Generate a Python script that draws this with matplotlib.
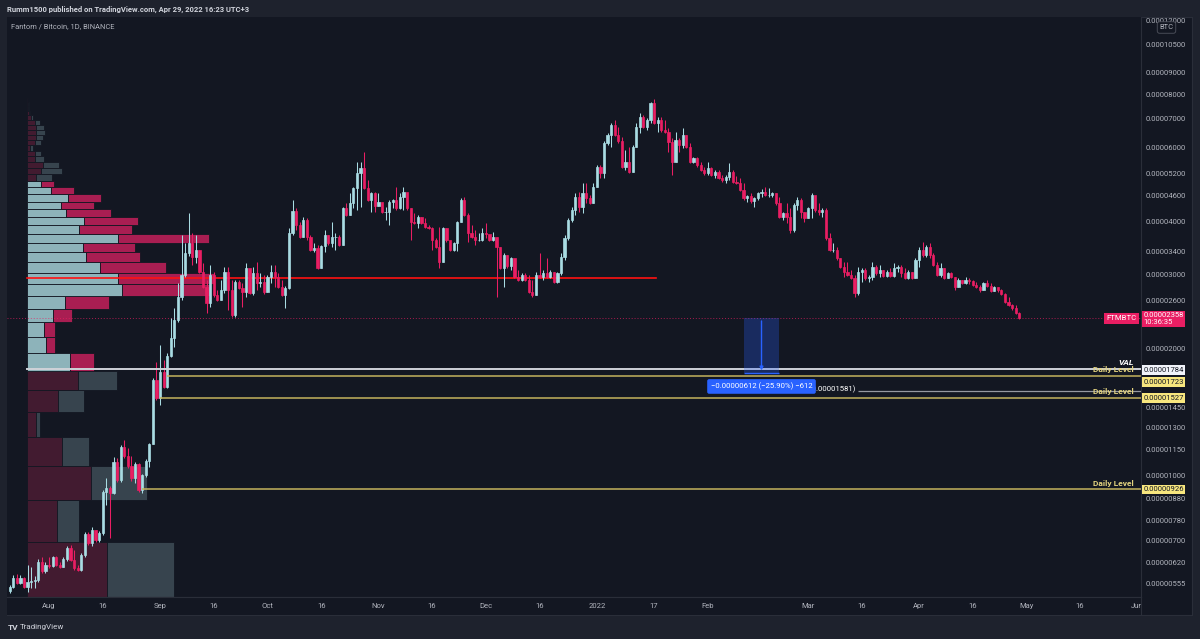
import numpy as np
import pandas as pd
import matplotlib
matplotlib.use("Agg")
import matplotlib.pyplot as plt
import matplotlib.dates as mdates
from matplotlib.patches import Rectangle
from matplotlib.transforms import blended_transform_factory
from matplotlib.ticker import FuncFormatter, NullLocator

plt.rcParams['font.family'] = ['Roboto', 'DejaVu Sans']

# FTM/BTC daily candles (prices in satoshi), first candle 2021-07-21
first_open = 533
closes = [
    545, 572, 557, 572, 545, 560, 563, 566, 624, 595,
    614, 611, 641, 614, 607, 634, 674, 631, 604, 598,
    649, 728, 693, 744, 704, 732, 915, 935, 910, 1077,
    976, 1169, 1113, 1054, 986, 1066, 925, 1003, 1083, 1188,
    1685, 1527, 1760, 1621, 1921, 2118, 2337, 2649, 2987, 3368,
    3557, 3296, 3423, 3036, 2797, 2563, 2987, 2678, 2606, 2752,
    3036, 2752, 2401, 2875, 2782, 2722, 3102, 2707, 3020, 2859,
    2875, 2722, 2955, 3036, 2955, 2797, 2678, 2782, 3756, 4234,
    3923, 3676, 4031, 3676, 3423, 3459, 3102, 3499, 3715, 3557,
    3676, 3676, 3518, 4303, 4143, 4423, 4799, 5210, 5352, 4799,
    4496, 4670, 4351, 4448, 4211, 4211, 4448, 4496, 4303, 4570,
    4696, 4303, 3987, 3965, 4098, 3965, 3880, 3859, 3615, 3480,
    3206, 3859, 3615, 3423, 3557, 3987, 4496, 4143, 3756, 3676,
    3615, 3615, 3756, 3736, 3615, 3676, 3480, 3102, 3331, 3137,
    3277, 2955, 2906, 2987, 2906, 2722, 2678, 2987, 2955, 3020,
    2955, 3036, 2875, 3020, 3296, 3657, 4031, 4257, 4570, 4326,
    4670, 4545, 4423, 4825, 5383, 5210, 6135, 6409, 6768, 6409,
    6202, 5383, 5531, 5238, 6003, 6695, 7069, 6695, 6955, 7630,
    6842, 6955, 6586, 6515, 6168, 5531, 6236, 6068, 6409, 6003,
    5531, 5653, 5441, 5295, 5210, 5352, 5153, 5238, 5068, 5014,
    5097, 5238, 4960, 4932, 4748, 4545, 4595, 4472, 4545, 4670,
    4696, 4620, 4620, 4670, 4423, 4098, 4188, 4098, 3817, 4375,
    4496, 4211, 4076, 4303, 4620, 4257, 4211, 4257, 3657, 3423,
    3423, 3277, 3120, 3036, 2987, 2939, 2707, 3036, 3069, 2939,
    2955, 3120, 3020, 3069, 2971, 3036, 2971, 3102, 3120, 3020,
    2939, 3036, 2939, 3241, 3423, 3331, 3480, 3331, 3154, 2987,
    3102, 2939, 3020, 2955, 2797, 2906, 2859, 2906, 2890, 2828,
    2797, 2752, 2859, 2813, 2737, 2797, 2752, 2693, 2578, 2536,
    2495, 2427, 2358,
]
highs = [
    551, 582, 585, 582, 575, 614, 607, 576, 634, 641,
    624, 641, 645, 645, 624, 641, 681, 685, 667, 614,
    656, 736, 736, 756, 744, 740, 925, 986, 945, 1107,
    1101, 1182, 1214, 1163, 1113, 1077, 1070, 1008, 1095, 1195,
    1703, 1859, 2039, 1879, 1951, 2362, 2495, 2859, 3715, 3557,
    4188, 3756, 3715, 3423, 3188, 2906, 3154, 3036, 2752, 2906,
    3120, 3120, 2906, 2906, 2906, 2859, 3188, 3020, 3120, 3205,
    3020, 2987, 2987, 3154, 3154, 3020, 2906, 2812, 3859, 4496,
    4303, 3987, 4098, 4076, 3715, 3557, 3518, 3518, 3817, 3715,
    3987, 3756, 3715, 4326, 4423, 4670, 4825, 5531, 5531, 5842,
    5014, 4696, 4696, 4670, 4423, 4326, 4496, 4521, 4825, 4670,
    4825, 4670, 4303, 4188, 4143, 4098, 4076, 3923, 3880, 3657,
    3880, 3880, 3859, 3596, 3576, 4009, 4545, 4570, 4188, 3923,
    3817, 3756, 3859, 3965, 3715, 3776, 3676, 3480, 3368, 3331,
    3296, 3241, 3069, 3020, 3020, 2987, 2906, 3036, 3368, 3069,
    3277, 3069, 3036, 3036, 3368, 3715, 4076, 4326, 4670, 4696,
    4932, 4932, 4620, 4932, 5441, 5441, 6202, 6480, 6842, 6955,
    6695, 6337, 5905, 6003, 6068, 6842, 7224, 7147, 7031, 7672,
    7799, 7069, 7069, 6955, 6659, 6303, 6515, 6303, 6659, 6409,
    6135, 5684, 5684, 5531, 5383, 5531, 5383, 5295, 5295, 5153,
    5153, 5500, 5295, 5125, 5068, 4932, 4620, 4670, 4570, 4696,
    4774, 4825, 4799, 4696, 4670, 4570, 4211, 4423, 4303, 4423,
    4570, 4545, 4211, 4326, 4670, 4570, 4423, 4303, 4303, 3756,
    3557, 3480, 3277, 3206, 3206, 3069, 2987, 3120, 3102, 3102,
    2987, 3206, 3154, 3154, 3069, 3069, 3102, 3188, 3154, 3154,
    3102, 3069, 3036, 3277, 3480, 3576, 3518, 3557, 3368, 3206,
    3188, 3102, 3036, 3036, 2955, 2939, 2906, 2955, 2939, 2906,
    2875, 2828, 2875, 2906, 2859, 2813, 2797, 2767, 2707, 2649,
    2550, 2536, 2441,
]
lows = [
    527, 542, 554, 554, 542, 530, 542, 542, 560, 588,
    588, 604, 607, 611, 604, 607, 628, 628, 598, 595,
    595, 641, 685, 681, 696, 696, 724, 852, 712, 905,
    966, 966, 1101, 1043, 971, 961, 915, 910, 992, 1048,
    1188, 1510, 1470, 1613, 1610, 1910, 2017, 2312, 2606, 2955,
    3313, 3154, 3188, 3020, 2782, 2427, 2509, 2649, 2592, 2606,
    2707, 2468, 2375, 2375, 2767, 2509, 2649, 2693, 2678, 2752,
    2797, 2693, 2722, 2859, 2797, 2782, 2664, 2495, 2770, 3715,
    3817, 3657, 3676, 3615, 3405, 3386, 3086, 3102, 3386, 3518,
    3480, 3423, 3499, 3518, 4121, 4143, 4303, 4257, 4326, 4774,
    4472, 4211, 4211, 4351, 4188, 4031, 3923, 4303, 4257, 4290,
    4257, 4257, 3615, 3944, 3859, 3944, 3859, 3838, 3423, 3459,
    3102, 3206, 3576, 3405, 3405, 3405, 3987, 4121, 3576, 3657,
    3518, 3596, 3596, 3657, 3596, 3596, 2649, 3086, 2797, 3102,
    3069, 2939, 2890, 2890, 2890, 2707, 2649, 2678, 2939, 2906,
    2939, 2939, 2859, 2859, 2987, 3241, 3615, 3987, 4143, 4211,
    4188, 4423, 4399, 4423, 4825, 5068, 5068, 6068, 6003, 6374,
    6135, 5352, 5295, 5210, 5238, 6003, 6480, 6659, 6586, 6842,
    6805, 6515, 6515, 6480, 5841, 5153, 5531, 5841, 5970, 5970,
    5500, 5500, 5383, 5266, 5153, 5153, 5125, 5068, 5041, 4960,
    4932, 5014, 4932, 4906, 4722, 4496, 4448, 4423, 4326, 4496,
    4570, 4595, 4570, 4570, 4375, 4076, 4031, 3965, 3756, 3776,
    4257, 4076, 3987, 4076, 4076, 4211, 4143, 4098, 3615, 3405,
    3386, 3241, 3102, 2955, 2971, 2922, 2649, 2678, 2875, 2906,
    2875, 2906, 2987, 2955, 2955, 2955, 2955, 2955, 3036, 2955,
    2922, 2922, 2922, 2939, 3120, 3296, 3296, 3277, 3137, 2971,
    2955, 2922, 2939, 2939, 2752, 2797, 2843, 2843, 2843, 2813,
    2782, 2722, 2752, 2797, 2722, 2737, 2722, 2678, 2563, 2522,
    2468, 2414, 2350,
]
dates = pd.date_range('2021-07-21', periods=len(closes), freq='D')

# visible range volume profile, rows of equal price size from the bottom
vp_low = 516
vp_row = 179
vp_first = [80, 30, 64, 35, 9, 31, 51, 43, 19, 17,
            26, 38, 95, 91, 73, 59, 56, 91, 52, 57,
            39, 34, 41, 24, 14, 9, 14, 16, 8, 8,
            3, 8, 9, 9, 9, 8, 4, 2, 1, 1, 1]
vp_second = [67, 22, 56, 27, 4, 26, 39, 24, 9, 11,
             19, 44, 87, 96, 66, 54, 52, 90, 53, 54,
             45, 33, 33, 23, 13, 16, 21, 16, 9, 6,
             3, 6, 7, 9, 8, 5, 2, 1, 1, 1, 0]
va_low = 1784
va_high = 4990
poc_end = '2022-01-17 12:00'

daily_levels = [1723, 1527, 926]
daily_starts = ['2021-09-03', '2021-09-01', '2021-08-27']
ray_level = 1581
ray_start = '2022-03-15'
last_price = 2358
measure_low = 1746
measure_start = '2022-02-11'
measure_end = '2022-02-21'
measure_text = '\u22120.00000612 (\u221225.90%) \u2212612'

price_ticks = [12000, 10500, 9000, 8000, 7000, 6000, 5200, 4600, 4000, 3400,
               3000, 2600, 2000, 1450, 1300, 1150, 1000, 880, 780, 700, 620, 555]
date_ticks = ['2021-08-01', '2021-08-16', '2021-09-01', '2021-09-16', '2021-10-01',
              '2021-10-16', '2021-11-01', '2021-11-16', '2021-12-01', '2021-12-16',
              '2022-01-01', '2022-01-17', '2022-02-01', '2022-03-01', '2022-03-16',
              '2022-04-01', '2022-04-16', '2022-05-01', '2022-05-16', '2022-06-01']
date_labels = ['Aug', '16', 'Sep', '16', 'Oct', '16', 'Nov', '16', 'Dec', '16',
               '2022', '17', 'Feb', 'Mar', '16', 'Apr', '16', 'May', '16', 'Jun']

BG = '#131722'
OUTER = '#1e222d'
BORDER = '#2a2e39'
TXT = '#b2b5be'
UP = '#a9dce3'
DN = '#e91e63'
YEL_LINE = '#c4b35e'
YEL_BOX = '#f7e67e'

W, H = 1200, 639
fig = plt.figure(figsize=(12, 6.39), dpi=100, facecolor=OUTER)

def fx(px):
    return px / W

def fy(py):
    return 1 - py / H

# chart panel
panel = fig.add_axes([fx(7), fy(615), (1192 - 7) / W, (615 - 17) / H])
panel.set_facecolor(BG)
panel.set_xticks([])
panel.set_yticks([])
for s in panel.spines.values():
    s.set_color(BORDER)

ax = fig.add_axes([fx(7), fy(597), (1141 - 7) / W, (597 - 17) / H])
ax.set_facecolor(BG)
ax.set_yscale('log')
xl = (mdates.date2num(pd.Timestamp('2021-07-20 06:00')), mdates.date2num(pd.Timestamp('2022-06-02')))

c = np.array(closes) / 1e8
o = np.r_[first_open, closes[:-1]] / 1e8
h = np.array(highs) / 1e8
l = np.array(lows) / 1e8
x = mdates.date2num(dates)
cols = np.where(c >= o, UP, DN)

# volume profile (screen anchored on the left)
tr = blended_transform_factory(ax.transAxes, ax.transData)
first = np.array(vp_first, float)
second = np.array(vp_second, float)
total = first + second
vp_x0 = 0.018
scale = 0.165 / total.max()
for k in range(len(first)):
    lo = (vp_low + k * vp_row) / 1e8
    hi = (vp_low + (k + 1) * vp_row) / 1e8
    mid = (lo + hi) / 2
    inside = va_low / 1e8 <= mid <= va_high / 1e8
    c1, c2 = ('#8db3ba', '#a91e52') if inside else ('#421b30', '#37444e')
    w1 = first[k] * scale
    w2 = second[k] * scale
    ax.add_patch(Rectangle((vp_x0, lo), w1, hi - lo, transform=tr, fc=c1, ec=BG, lw=0.6, zorder=1))
    ax.add_patch(Rectangle((vp_x0 + w1, lo), w2, hi - lo, transform=tr, fc=c2, ec=BG, lw=0.6, zorder=1))

x_vp = xl[0] + vp_x0 * (xl[1] - xl[0])
k_poc = int(np.argmax(total))
poc = (vp_low + (k_poc + 0.5) * vp_row) / 1e8
ax.plot([x_vp, mdates.date2num(pd.Timestamp(poc_end))], [poc, poc], color='#ff1111', lw=1.2, zorder=2)

# candles
ax.vlines(x, l, h, colors=cols, lw=0.75, zorder=3)
ax.bar(x, np.abs(c - o), bottom=np.minimum(o, c), width=0.62, color=cols,
       edgecolor=cols, linewidth=0.5, zorder=4)

# horizontal levels
ax.axhline(last_price / 1e8, color=DN, lw=0.7, ls=(0, (1, 2)), alpha=0.7, zorder=2)
ax.plot([x_vp, xl[1]], [va_low / 1e8] * 2, color='#cfd2d8', lw=1.4, zorder=5)
for lvl, st in zip(daily_levels, daily_starts):
    ax.hlines(lvl / 1e8, mdates.date2num(pd.Timestamp(st)), xl[1], color=YEL_LINE, lw=1.1, zorder=5)
    ax.annotate('Daily Level', xy=(1.0, lvl / 1e8), xycoords=tr, xytext=(-5, 1.8),
                textcoords='offset points', ha='right', va='bottom', color='#e3d37f',
                fontsize=6, fontweight='bold', zorder=6)
ax.annotate('VAL', xy=(1.0, va_low / 1e8), xycoords=tr, xytext=(-5, 2.5),
            textcoords='offset points', ha='right', va='bottom', color='white',
            fontsize=6, fontweight='bold', fontstyle='italic', zorder=6)
ax.hlines(ray_level / 1e8, mdates.date2num(pd.Timestamp(ray_start)), xl[1], color='#9598a1', lw=0.9, zorder=5)
ax.annotate(f'({ray_level / 1e8:.8f})', xy=(mdates.date2num(pd.Timestamp(ray_start)), ray_level / 1e8),
            xytext=(-2, 2), textcoords='offset points', ha='right', va='center',
            color='white', fontsize=5.6, zorder=6)

# price range measurement
m0 = mdates.date2num(pd.Timestamp(measure_start))
m1 = mdates.date2num(pd.Timestamp(measure_end))
mm = (m0 + m1) / 2
ax.add_patch(Rectangle((m0, measure_low / 1e8), m1 - m0, (last_price - measure_low) / 1e8,
                       fc='#2962ff', alpha=0.28, ec='none', zorder=6))
ax.hlines(measure_low / 1e8, m0, m1, color='#2962ff', lw=1, zorder=7)
ax.annotate('', xy=(mm, measure_low / 1e8), xytext=(mm, last_price / 1e8),
            arrowprops=dict(arrowstyle='-|>', color='#2962ff', lw=1, mutation_scale=5), zorder=7)
ax.annotate(measure_text, xy=(mm, measure_low / 1e8), xytext=(0, -9.5), textcoords='offset points',
            ha='center', va='center', color='white', fontsize=5.6, zorder=9,
            bbox=dict(boxstyle='round,pad=0.45,rounding_size=0.25', fc='#2962ff', ec='none'))

ax.set_xlim(*xl)
ax.set_ylim(515e-8, 12200e-8)
ax.set_xticks([])
ax.yaxis.tick_right()
ax.set_yticks(np.array(price_ticks) / 1e8)
ax.yaxis.set_major_formatter(FuncFormatter(lambda v, p: f'{v:.8f}'))
ax.yaxis.set_minor_locator(NullLocator())
ax.tick_params(axis='y', length=0, pad=3.6, labelsize=5.5, labelcolor=TXT)
for name, s in ax.spines.items():
    s.set_visible(name in ('right', 'bottom'))
    s.set_color(BORDER)

# price scale labels
def axis_label(price, text, fc, tc, dy=0, va='center'):
    ax.annotate(text, xy=(1.0, price / 1e8), xycoords=tr, xytext=(1.6, dy), textcoords='offset points',
                ha='left', va=va, color=tc, fontsize=5.5, annotation_clip=False, zorder=10,
                linespacing=1.15, bbox=dict(boxstyle='square,pad=0.22', fc=fc, ec='none'))

axis_label(va_low, f'{va_low / 1e8:.8f}', '#f0f3fa', BG, dy=-0.5)
axis_label(daily_levels[0], f'{daily_levels[0] / 1e8:.8f}', YEL_BOX, BG, dy=-4.5)
axis_label(daily_levels[1], f'{daily_levels[1] / 1e8:.8f}', YEL_BOX, BG)
axis_label(daily_levels[2], f'{daily_levels[2] / 1e8:.8f}', YEL_BOX, BG)
axis_label(last_price, f'{last_price / 1e8:.8f}\n10:36:35', DN, 'white', dy=4.3, va='top')
ax.annotate('FTMBTC', xy=(1.0, last_price / 1e8), xycoords=tr, xytext=(-3, 0), textcoords='offset points',
            ha='right', va='center', color='white', fontsize=5.6, zorder=10,
            bbox=dict(boxstyle='square,pad=0.3', fc=DN, ec='none'))

# time scale
tax = fig.add_axes([fx(7), fy(615), (1141 - 7) / W, (615 - 597) / H])
tax.set_facecolor(BG)
tax.set_xlim(*xl)
tax.set_ylim(0, 1)
tax.set_xticks([])
tax.set_yticks([])
for name, s in tax.spines.items():
    s.set_visible(name in ('right', 'top'))
    s.set_color(BORDER)
for d, lab in zip(date_ticks, date_labels):
    tax.text(mdates.date2num(pd.Timestamp(d)), 0.5, lab, ha='center', va='center',
             color=TXT, fontsize=5.5, clip_on=True)

# header, legend, footer
fig.text(fx(7), fy(9), 'Rumm1500 published on TradingView.com, Apr 29, 2022 16:23 UTC+3',
         color='#d1d4dc', fontsize=5.5, fontweight='bold', va='center')
fig.text(fx(11), fy(27), 'Fantom / Bitcoin, 1D, BINANCE', color=TXT, fontsize=5.4, va='center')
fig.text(fx(1166.5), fy(27.5), 'BTC', color=TXT, fontsize=5.4, ha='center', va='center',
         bbox=dict(boxstyle='round,pad=0.3,rounding_size=0.3', fc=BG, ec='#50535e', lw=0.6))
fig.text(fx(8), fy(627), 'TV', color='#d1d4dc', fontsize=6, fontweight='bold', va='center')
fig.text(fx(20), fy(627), 'TradingView', color='#d1d4dc', fontsize=5.8, va='center')

fig.savefig('out.png', dpi=100, facecolor=OUTER)
